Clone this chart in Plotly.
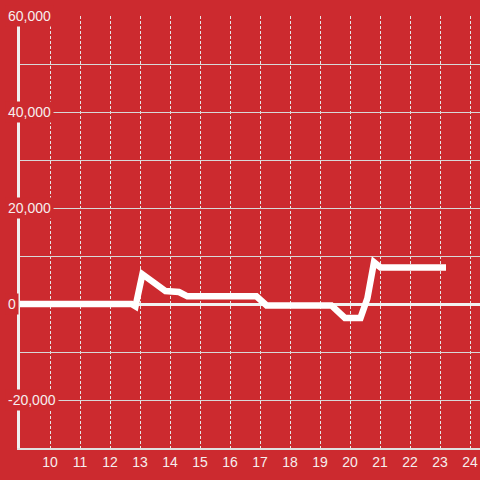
import plotly.graph_objects as go

# hour of day vs value
hours = [9.0, 12.72, 12.85, 13.08, 13.85, 14.3, 14.58, 16.88, 17.22, 19.38, 19.83, 20.35, 20.58, 20.8, 21.02, 23.2]
values = [0, 0, -500, 6200, 2700, 2500, 1600, 1600, -300, -300, -2900, -2900, 1200, 8700, 7600, 7600]

y_label_vals = [60000, 40000, 20000, 0, -20000]
x_tick_vals = list(range(10, 25))

BG = '#CC2A2F'
TXT = '#F6EEEE'

fig = go.Figure(go.Scatter(
    x=hours, y=values, mode='lines',
    line=dict(color='#FFFFFF', width=6.5),
    hoverinfo='skip',
))

fig.update_layout(
    width=480, height=480,
    paper_bgcolor=BG, plot_bgcolor=BG,
    margin=dict(l=20, r=0, t=16, b=32),
    font=dict(family='Liberation Sans, Arial, sans-serif', color=TXT, size=14),
    showlegend=False,
    xaxis=dict(range=[9, 24.333], tickvals=x_tick_vals, ticks='',
               showgrid=True, gridcolor='#E6E6E6', gridwidth=1, griddash='3px,2px',
               showline=True, linecolor='#E0E0E0', linewidth=1.5,
               zeroline=False, tickfont=dict(size=14, color=TXT)),
    yaxis=dict(range=[-30000, 60000], dtick=10000, showticklabels=False, ticks='',
               showgrid=True, gridcolor='#D8D8D8', gridwidth=1,
               zeroline=True, zerolinecolor='#F2F2F2', zerolinewidth=3,
               showline=True, linecolor='#F0F0F0', linewidth=3),
)

for v in y_label_vals:
    fig.add_annotation(
        x=0, xref='paper', y=v, yref='y', xanchor='left', yanchor='middle',
        xshift=-15, text=f'{v:,}', showarrow=False, bgcolor=BG, borderpad=2,
        font=dict(size=14, color=TXT),
    )

fig.write_html('out.html', config={'displayModeBar': False},
               post_script="document.body.style.margin='0';document.body.style.background='" + BG + "';")
